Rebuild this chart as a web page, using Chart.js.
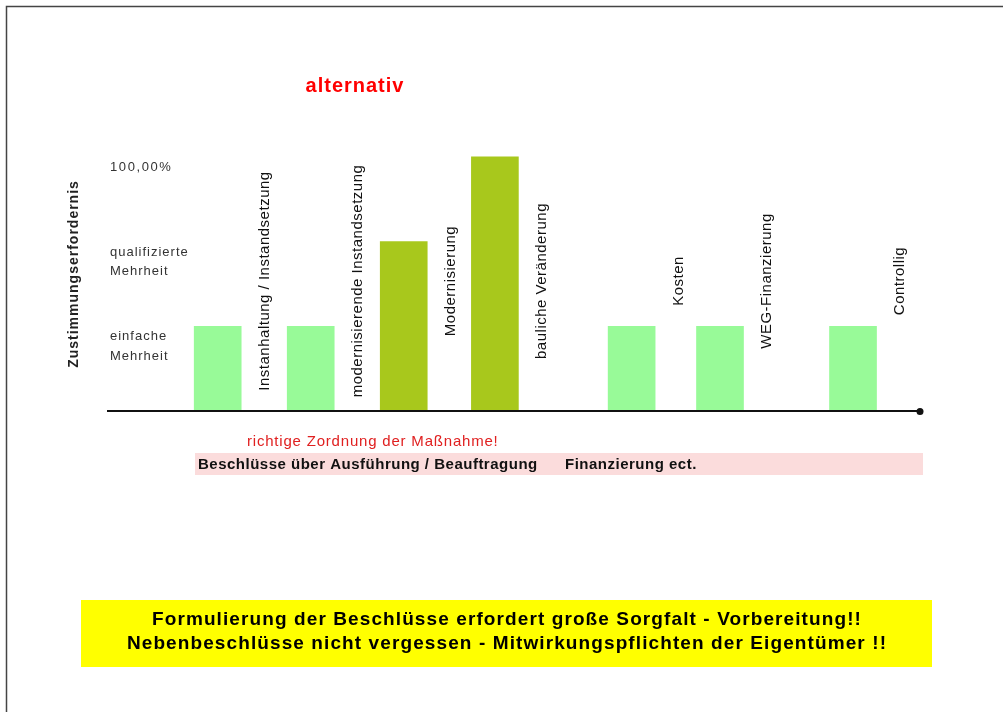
<!DOCTYPE html>
<html>
<head>
<meta charset="utf-8">
<script src="https://cdn.jsdelivr.net/npm/chart.js@4/dist/chart.umd.min.js"></script>
<style>
  html, body { margin: 0; padding: 0; background: #fff; }
  #chart { display: block; }
</style>
</head>
<body>
<canvas id="chart" width="1003" height="712"></canvas>
<script>
"use strict";

// ── Data ─────────────────────────────────────────────────────────────────────

const categories = [
  "Instanhaltung / Instandsetzung",
  "modernisierende Instandsetzung",
  "Modernisierung",
  "bauliche Veränderung",
  "Kosten",
  "WEG-Finanzierung",
  "Controllig",
];
// slot of each bar on the horizontal axis (gaps between groups are uneven)
const slots = [1, 2, 3, 3.98, 5.45, 6.4, 7.83];
// 1 = einfache Mehrheit, 2 = qualifizierte Mehrheit, 3 = 100 %
const requirement = [1, 1, 2, 3, 1, 1, 1];

const levelValues = [1, 2, 3];
const levelLabels = [["einfache", "Mehrheit"], ["qualifizierte", "Mehrheit"], ["100,00%"]];

const chartTitle = "alternativ";
const axisTitle = "Zustimmungserfordernis";
const noteText = "richtige Zordnung der Maßnahme!";
const bandLeft = "Beschlüsse über Ausführung / Beauftragung";
const bandRight = "Finanzierung ect.";
const boxLines = [
  "Formulierung der Beschlüsse erfordert große Sorgfalt - Vorbereitung!!",
  "Nebenbeschlüsse nicht vergessen - Mitwirkungspflichten der Eigentümer !!",
];

const LIGHT = "#98fa98";
const DARK = "#a8c81c";
const FONT = '"Liberation Sans", Arial, sans-serif';

// ── Decoration plugin ────────────────────────────────────────────────────────

const slidePlugin = {
  id: "slide",
  afterDraw(chart) {
    const ctx = chart.ctx;
    const xs = chart.scales.x;
    const ys = chart.scales.y;
    const area = chart.chartArea;
    const base = ys.getPixelForValue(0);
    ctx.save();

    // frame
    ctx.strokeStyle = "#444";
    ctx.lineWidth = 1.5;
    ctx.beginPath();
    ctx.moveTo(1003, 6.5);
    ctx.lineTo(6.5, 6.5);
    ctx.lineTo(6.5, 712);
    ctx.stroke();

    // title
    ctx.fillStyle = "#ff0000";
    ctx.font = "bold 20px " + FONT;
    ctx.letterSpacing = "1px";
    ctx.textAlign = "center";
    ctx.textBaseline = "middle";
    ctx.fillText(chartTitle, 355, 86);

    // base line with end dot
    ctx.strokeStyle = "#111";
    ctx.lineWidth = 2;
    ctx.beginPath();
    ctx.moveTo(area.left, base);
    ctx.lineTo(area.right, base);
    ctx.stroke();
    ctx.fillStyle = "#111";
    ctx.beginPath();
    ctx.arc(area.right, base + 0.5, 3.5, 0, Math.PI * 2);
    ctx.fill();

    // y axis title
    ctx.save();
    ctx.translate(74, 274);
    ctx.rotate(-Math.PI / 2);
    ctx.font = "bold 14px " + FONT;
    ctx.letterSpacing = "1px";
    ctx.fillStyle = "#222";
    ctx.textAlign = "center";
    ctx.textBaseline = "middle";
    ctx.fillText(axisTitle, 0, 0);
    ctx.restore();

    // level labels
    ctx.font = "13px " + FONT;
    ctx.fillStyle = "#333";
    ctx.textAlign = "left";
    ctx.textBaseline = "middle";
    levelValues.forEach((v, i) => {
      const y0 = ys.getPixelForValue(v) + 10.5;
      ctx.letterSpacing = v === 3 ? "1.6px" : "1px";
      levelLabels[i].forEach((line, j) => ctx.fillText(line, 110, y0 + j * 19.5));
    });

    // rotated category labels
    ctx.font = "15px " + FONT;
    ctx.letterSpacing = "0.5px";
    ctx.fillStyle = "#111";
    categories.forEach((name, i) => {
      ctx.save();
      ctx.translate(xs.getPixelForValue(slots[i]) + 47, 281);
      ctx.rotate(-Math.PI / 2);
      ctx.textAlign = "center";
      ctx.textBaseline = "middle";
      ctx.fillText(name, 0, 0);
      ctx.restore();
    });

    // pink band and notes
    ctx.fillStyle = "#fbdcdc";
    ctx.fillRect(195, 453, 728, 22);
    ctx.fillStyle = "#e02020";
    ctx.font = "15px " + FONT;
    ctx.letterSpacing = "0.8px";
    ctx.textAlign = "left";
    ctx.textBaseline = "middle";
    ctx.fillText(noteText, 247, 442);
    ctx.fillStyle = "#111";
    ctx.font = "bold 15px " + FONT;
    ctx.letterSpacing = "0.5px";
    ctx.fillText(bandLeft, 198, 465);
    ctx.fillText(bandRight, 565, 465);

    // yellow box
    ctx.fillStyle = "#ffff00";
    ctx.fillRect(81, 600, 851, 67);
    ctx.fillStyle = "#000";
    ctx.font = "bold 19px " + FONT;
    ctx.letterSpacing = "1.1px";
    ctx.textAlign = "center";
    boxLines.forEach((line, i) => ctx.fillText(line, 507, 620 + i * 24));

    ctx.restore();
  },
};

// ── Chart ────────────────────────────────────────────────────────────────────

new Chart(document.getElementById("chart"), {
  type: "bar",
  data: {
    datasets: [{
      data: slots.map((x, i) => ({ x, y: requirement[i] })),
      backgroundColor: requirement.map(v => (v === 1 ? LIGHT : DARK)),
      barThickness: 47,
      borderWidth: 0,
    }],
  },
  options: {
    responsive: false,
    animation: false,
    layout: { padding: { left: 107, right: 83, top: 140, bottom: 301 } },
    plugins: { legend: { display: false }, tooltip: { enabled: false } },
    scales: {
      x: { type: "linear", display: false, offset: false, min: -0.19, max: 8.55 },
      y: { display: false, min: 0, max: 3.2 },
    },
  },
  plugins: [slidePlugin],
});
</script>
</body>
</html>
